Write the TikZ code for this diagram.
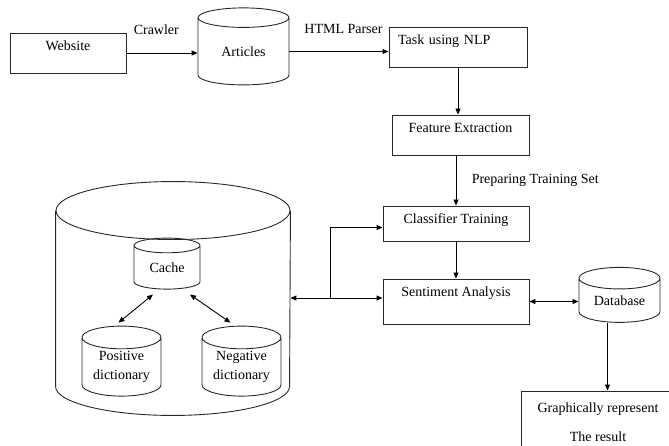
\documentclass[tikz,border=0pt]{standalone}
\usepackage{fontspec}
\setmainfont{Liberation Serif}
\usetikzlibrary{positioning, arrows.meta, shapes.geometric}
\definecolor{linegray}{RGB}{40,40,40}

\begin{document}
\begin{tikzpicture}[x=1pt, y=-1pt, line width=0.9pt,
  every node/.style={font=\fontsize{14}{19}\selectfont},
  >={Triangle[length=6pt, width=5pt]},
  box/.style={draw=linegray, rectangle, inner xsep=3pt, inner ysep=0pt, text height=18pt},
  drum/.style={draw=linegray, cylinder, shape border rotate=90, align=center, inner sep=0pt},
  lbl/.style={anchor=base, yshift=18pt}]
 \useasboundingbox (0,0) rectangle (669,446);
 % top row
 \node[box, minimum width=116pt, text depth=22pt] (web) at (68,53) {Website};
 \node[drum, minimum width=91pt, minimum height=77pt, aspect=0.44] (art) at (243.5,51.5) {Articles};
 \node[box, text width=120pt, inner xsep=9pt, align=left, text depth=22pt] (task) at (458,47) {Task using NLP};
 % right column
 \node[box, minimum width=137pt, text depth=22pt] (feat) at (460.5,135) {Feature Extraction};
 \node[box, minimum width=146pt, text depth=17pt] (cls) at (456,223.5) {Classifier Training};
 \node[box, minimum width=146pt, text depth=27pt] (sa) at (456,301.5) {Sentiment Analysis};
 \node[drum, minimum width=81pt, minimum height=55pt, aspect=0.42] (db) at (619.5,300.5) {Database};
 \node[draw=linegray, rectangle, minimum width=154pt, minimum height=62pt, align=center,
   font=\fontsize{14}{29}\selectfont] (gr) at (598,422) {Graphically represent\\The result};
 % store: outer cylinder drawn by hand round an empty node
 \node[inner sep=0pt, minimum width=234pt, minimum height=233pt] (big) at (173,298.5) {};
 \draw[linegray] ([yshift=-29pt]big.north) ellipse [x radius=117, y radius=29];
 \draw[linegray] ([yshift=-29pt]big.north west) -- ([yshift=29pt]big.south west)
   arc[start angle=180, end angle=0, x radius=117, y radius=29] -- ([yshift=-29pt]big.north east);
 \node[drum, minimum width=66pt, minimum height=51pt, aspect=0.42] (cache) at (167,267.5) {Cache};
 \node[drum, minimum width=79pt, minimum height=70pt, aspect=0.4] (pos) at (121.5,367) {Positive\\dictionary};
 \node[drum, minimum width=79pt, minimum height=70pt, aspect=0.4] (neg) at (241.5,367) {Negative\\dictionary};
 \coordinate (j) at (330,298);

 \draw[->] (web.east) -- (web.east -| art.west) node[pos=0.42, lbl] {Crawler};
 \draw[->] (art.east) -- (art.east -| task.west) node[pos=0.545, lbl] {HTML Parser};
 \draw[->] (task.south) -- (task.south |- feat.north);
 \draw[->] (cls.north |- feat.south) -- (cls.north) node[midway, right=12pt] {Preparing Training Set};
 \draw[->] (cls.south) -- (sa.north);
 \draw[->] (j) |- ([yshift=-4pt]cls.west);
 \draw[->] (j) -- (j -| sa.west);
 \draw[->] (j) -- (j -| big.east);
 \draw[<->] (sa.east) -- (sa.east -| db.west);
 \draw[->] ([xshift=-12pt]db.south) -- ([xshift=-12pt]db.south |- gr.north);
 \draw[<->] ([shift={(-14,5)}]cache.south) -- ([shift={(-3,-3)}]pos.north);
 \draw[<->] ([shift={(23,5)}]cache.south) -- ([shift={(-11,-3)}]neg.north);
\end{tikzpicture}
\end{document}
